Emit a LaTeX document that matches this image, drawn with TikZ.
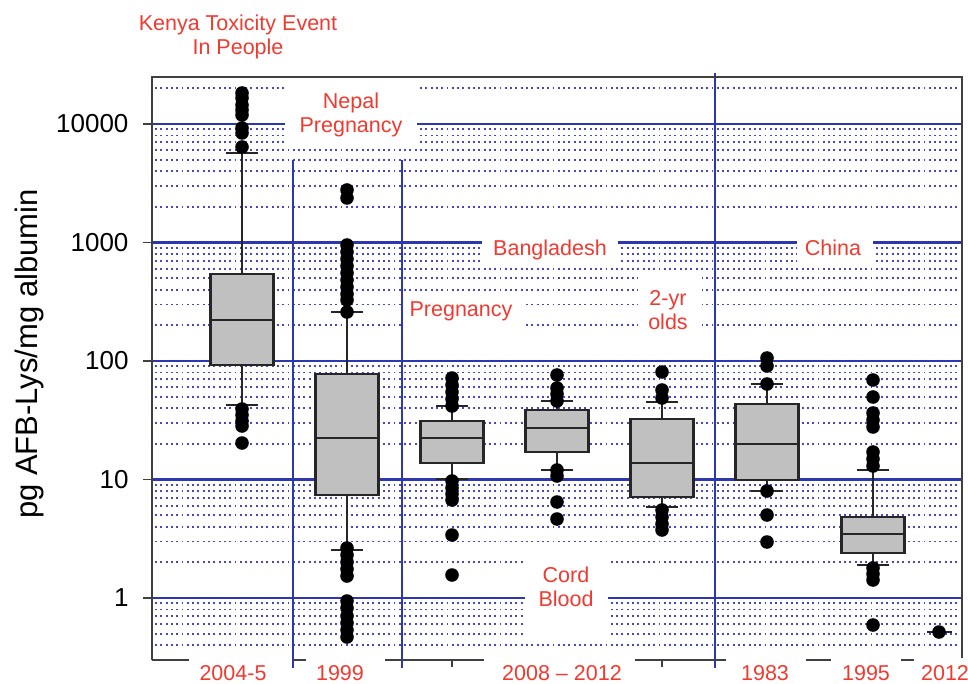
\documentclass[tikz,border=0pt]{standalone}
\usepackage{fontspec}
\setmainfont{Liberation Sans}
\definecolor{gridblue}{RGB}{45,55,175}
\definecolor{dotblue}{RGB}{70,70,200}
\definecolor{labelred}{RGB}{240,58,48}
\definecolor{boxgray}{RGB}{192,192,192}
\tikzset{
  major/.style={gridblue, line width=2.7pt},
  minor/.style={dotblue, line width=1.9pt, dash pattern=on 1.9pt off 3.4pt},
  axisline/.style={black!75, line width=2pt},
  whisker/.style={black!85, line width=2pt},
  boxbody/.style={draw=black!85, fill=boxgray, line width=2.2pt},
  grouplbl/.style={labelred, font=\fontsize{21.5}{24}\selectfont, align=center, anchor=north, inner sep=0pt},
  ticklbl/.style={font=\fontsize{26}{28}\selectfont, anchor=east}
}
\begin{document}
\begin{tikzpicture}[x=1pt,y=-1pt]
  \useasboundingbox (0,0) rectangle (968,684);
  % dotted minor grid
  \foreach \d in {-1,...,4}
    \foreach \m in {2,...,9} {
      \pgfmathsetmacro\yy{598-118.5*(\d+log10(\m))}
      \ifdim\yy pt>80pt \ifdim\yy pt<655pt
        \draw[minor] (155,\yy) -- (959,\yy);
      \fi\fi
    }
  % decades
  \foreach \d/\lab in {0/1,1/10,2/100,3/1000,4/10000} {
    \pgfmathsetmacro\yy{598-118.5*\d}
    \draw[major] (153,\yy) -- (961,\yy);
    \draw[axisline, line width=1.5pt] (143,\yy) -- (153,\yy);
    \node[ticklbl] (tick\lab) at (132,\yy) {\lab};
  }
  % white space behind the group labels
  \fill[white] (285,80) rectangle (417,147);
  \fill[white] (482,232) rectangle (618,265);
  \fill[white] (797,232) rectangle (873,265);
  \fill[white] (403,292) rectangle (526,345);
  \fill[white] (638,272) rectangle (702,340);
  \fill[white] (525,552) rectangle (608,636);
  % dividers
  \draw[major] (293,160) -- (293,668);
  \draw[major] (402,160) -- (402,668);
  \draw[major] (715,73) -- (715,668);
  % frame and broken x axis
  \draw[axisline] (152,660) -- (152,77) -- (962,77) -- (962,658);
  \draw[axisline] (152,660) -- (189,660) (293,660) -- (306,660)
    (385,660) -- (484,660) (452,660) -- (452,667)
    (635,660) -- (726,660) (662,660) -- (662,667)
    (806,660) -- (831,660) (901,660) -- (914,660);
  % box plots: centre / box top / median / box bottom / upper cap / lower cap
  \foreach \cx/\bt/\md/\bb/\up/\lo in {242/274/320/365/153/405, 347/374/438/495/312/550,
      452/421/438/463/406/479, 557/410/428/452/401/470, 662/419/463/497/402/507,
      767/404/444/480/384/491, 873/517/534/553/470/565} {
    \draw[whisker] (\cx,\up) -- (\cx,\bt) (\cx,\bb) -- (\cx,\lo);
    \draw[whisker] (\cx-16,\up) -- (\cx+16,\up) (\cx-16,\lo) -- (\cx+16,\lo);
    \draw[boxbody] (\cx-31.5,\bt) rectangle (\cx+31.5,\bb);
    \draw[boxbody] (\cx-31.5,\md) -- (\cx+31.5,\md);
  }
  \draw[whisker] (927,632) -- (952,632);
  % outliers
  \foreach \x/\y in {242/93, 242/98, 242/105, 242/110, 242/115, 242/128, 242/133, 242/147,
      242/409, 242/415, 242/421, 242/426, 242/443,
      347/190, 347/198, 347/245, 347/252, 347/259, 347/266, 347/273, 347/280, 347/287,
      347/294, 347/300, 347/312, 347/548, 347/555, 347/562, 347/569, 347/576,
      347/601, 347/608, 347/616, 347/623, 347/630, 347/637,
      452/378, 452/385, 452/392, 452/399, 452/406, 452/481, 452/488, 452/494, 452/500,
      452/535, 452/575,
      557/375, 557/388, 557/394, 557/401, 557/470, 557/476, 557/502, 557/519,
      662/372, 662/390, 662/398, 662/510, 662/517, 662/524, 662/530,
      767/358, 767/366, 767/384, 767/491, 767/515, 767/542,
      873/380, 873/397, 873/413, 873/420, 873/427, 873/452, 873/459, 873/466,
      873/568, 873/574, 873/580, 873/625, 939/632}
    \fill (\x,\y) circle (6.8pt);
  % labels
  \node[grouplbl] (kenya) at (238,15) {Kenya Toxicity Event\\In People};
  \node[grouplbl] (nepal) at (351,93) {Nepal\\Pregnancy};
  \node[grouplbl] (bangla) at (550,240) {Bangladesh};
  \node[grouplbl] (china) at (833,240) {China};
  \node[grouplbl] (preg) at (461,302) {Pregnancy};
  \node[grouplbl] (twoyr) at (668,290) {2-yr\\olds};
  \node[grouplbl] (cord) at (566,567) {Cord\\Blood};
  \node[grouplbl] (y2004) at (233,665) {2004-5};
  \node[grouplbl] (y1999) at (340,665) {1999};
  \node[grouplbl] (y2008) at (562,665) {2008 -- 2012};
  \node[grouplbl] (y1983) at (765,665) {1983};
  \node[grouplbl] (y1995) at (866,665) {1995};
  \node[grouplbl] (y2012) at (945,665) {2012};
  \node[font=\fontsize{31}{34}\selectfont, rotate=90] (ylab) at (29,354) {pg AFB-Lys/mg albumin};
\end{tikzpicture}
\end{document}
